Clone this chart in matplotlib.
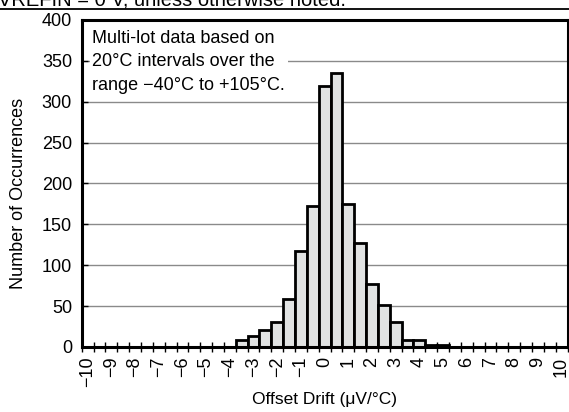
import matplotlib

matplotlib.use("Agg")

import matplotlib.pyplot as plt
from matplotlib.lines import Line2D
from matplotlib.ticker import FixedLocator, MultipleLocator

plt.rcParams["font.family"] = ["Liberation Sans", "DejaVu Sans"]

# offset drift bins (uV/C, bin centres, 0.5 wide) and counts
drift = [-3.5, -3.0, -2.5, -2.0, -1.5, -1.0, -0.5, 0.0, 0.5,
         1.0, 1.5, 2.0, 2.5, 3.0, 3.5, 4.0, 4.5, 5.0]
counts = [8, 13, 21, 31, 59, 118, 172, 319, 335,
          175, 127, 77, 51, 31, 9, 9, 3, 2]
x_labels = [str(v).replace("-", "\u2212") for v in range(-10, 11)]
bin_edges = [e / 4 for e in range(-41, 42, 2)]

BAR = "#e1e3e3"
GRID = "#8a8a8a"

fig = plt.figure(figsize=(5.69, 4.12), dpi=100, facecolor="white")
ax = fig.add_axes([0.1436, 0.1578, 0.8538, 0.7937])

ax.bar(drift, counts, width=0.5, color=BAR, edgecolor="black", linewidth=2.0, zorder=3)

ax.set_xlim(-10.25, 10.25)
ax.set_ylim(0, 400)
ax.yaxis.set_major_locator(MultipleLocator(50))
ax.grid(axis="y", color=GRID, linewidth=1.0, zorder=0)
ax.set_axisbelow(True)

ax.xaxis.set_major_locator(FixedLocator(range(-10, 11)))
ax.set_xticklabels(x_labels, rotation=90, fontsize=13)
ax.xaxis.set_minor_locator(FixedLocator(bin_edges))
ax.tick_params(axis="x", which="major", length=0, pad=7)
ax.tick_params(axis="x", which="minor", direction="inout", length=6.5, width=1.0, color="black")
ax.tick_params(axis="y", which="major", direction="in", length=4, width=1.0, labelsize=13, pad=7)

for side in ax.spines.values():
    side.set_linewidth(2.2)
    side.set_color("black")
    side.set_zorder(4)

ax.set_xlabel("Offset Drift (\u03bcV/\u00b0C)", fontsize=12.5, labelpad=3)
ax.set_ylabel("Number of Occurrences", fontsize=13)
ax.yaxis.set_label_coords(-0.113, 0.47)

ax.text(0.022, 0.97,
        "Multi-lot data based on\n20\u00b0C intervals over the\nrange \u221240\u00b0C to +105\u00b0C.",
        transform=ax.transAxes, fontsize=13, va="top", ha="left", linespacing=1.5,
        bbox=dict(facecolor="white", edgecolor="none", pad=2), zorder=5)

# clipped page header above the chart
fig.text(-0.004, 1 - 6 / 412, "VREFIN = 0 V, unless otherwise noted.", fontsize=14.5, va="baseline", ha="left")
fig.add_artist(Line2D([0, 1], [1 - 8.5 / 412, 1 - 8.5 / 412], color="black", linewidth=1.3,
                      transform=fig.transFigure))

fig.savefig("out.png", dpi=100, facecolor="white")
